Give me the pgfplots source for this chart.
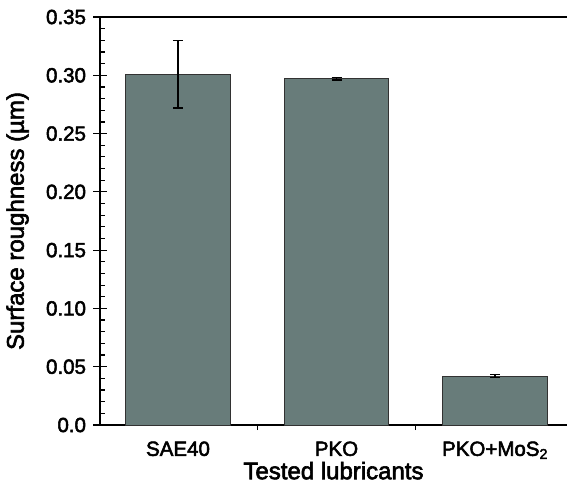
\documentclass[border=0pt]{standalone}
\usepackage{fontspec}
\setmainfont{Liberation Sans}[FakeBold=2.5]
\usepackage{pgfplots}
\pgfplotsset{compat=1.18}
\definecolor{Bar}{RGB}{104,124,122}
\definecolor{Edge}{RGB}{50,50,50}

\begin{document}
\begin{tikzpicture}
	\begin{axis}[%
		scale only axis,
		width=467pt, height=408pt,
		xmin=-0.492, xmax=2.454,
		ymin=0, ymax=0.35,
		axis y line*=left, axis x line*=bottom,
		axis line style={line width=1.2pt},
		every tick/.style={black, line width=1.2pt},
		xtick={0,1,2},
		xticklabels={SAE40, PKO, PKO+MoS\textsubscript{2}},
		x tick style={draw=none},
		extra x ticks={0.5,1.5},
		extra x tick labels={},
		extra x tick style={tick align=outside, major tick length=5pt, x tick style={draw=black}},
		ytick={0,0.05,...,0.35},
		yticklabels={0.0,0.05,0.10,0.15,0.20,0.25,0.30,0.35},
		yticklabel style={xshift=-4pt},
		tick align=center,
		major tick length=13pt,
		extra y ticks={0.01,0.02,0.03,0.04,0.06,0.07,0.08,0.09,0.11,0.12,0.13,0.14,0.16,0.17,0.18,0.19,0.21,0.22,0.23,0.24,0.26,0.27,0.28,0.29,0.31,0.32,0.33,0.34},
		extra y tick labels={},
		extra y tick style={tick align=inside, major tick length=5pt},
		/pgf/number format/assume math mode=true,
		ticklabel style={font=\fontsize{20.5}{24}\selectfont},
		label style={font=\fontsize{24}{28}\selectfont},
		xlabel={Tested lubricants},
		xlabel style={yshift=22pt},
		ylabel={Surface roughness (µm)},
		ylabel style={yshift=4pt},
		ybar, bar width=0.66,
		]
		\addplot[%
			fill=Bar, draw=Edge, line width=1pt,
			error bars/.cd,
			y dir=both, y explicit,
			error bar style={line width=1.2pt, black},
			error mark options={rotate=90, mark size=5pt, line width=1.2pt, black},
			]
			coordinates {
				(0,0.301) +- (0,0.029)
				(1,0.297) +- (0,0.001)
				(2,0.042) +- (0,0.001)};
	\end{axis}
	\draw[line width=1.2pt] (0pt,408pt) -- (467pt,408pt);
	\pgfresetboundingbox
	\path[use as bounding box] (-100pt,-68pt) rectangle (467pt,425pt);
\end{tikzpicture}
\end{document}
